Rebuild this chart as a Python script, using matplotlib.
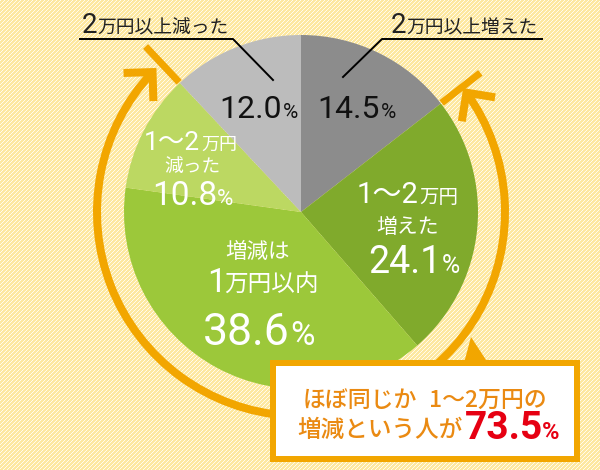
import numpy as np
import matplotlib
matplotlib.use('Agg')
import matplotlib.pyplot as plt
from matplotlib import font_manager
from matplotlib.patches import Arc, Rectangle, Polygon

# データ（時計回り、12時の位置から）
categories = ['2万円以上増えた', '1～2万円増えた', '増減は1万円以内', '1～2万円減った', '2万円以上減った']
shares = [14.5, 24.1, 38.6, 10.8, 12.0]
colors = ['#8c8c8c', '#80aa2c', '#9cc83a', '#bcd862', '#bcbcbc']
highlight = 73.5  # 24.1 + 38.6 + 10.8

W, H = 600, 470
ORANGE = '#f2a600'
TEXT_ORANGE = '#ea8a12'
RED = '#e60012'


def Y(y):
    # 画像座標(上が0)をデータ座標に
    return H - y


installed = {f.name for f in font_manager.fontManager.ttflist}
JP = ['Noto Sans CJK JP', 'DejaVu Sans']
NUM = ['Roboto', 'Noto Sans CJK JP', 'DejaVu Sans']
narrow = 'Liberation Sans Narrow' if 'Liberation Sans Narrow' in installed else 'Roboto'
PCT = [narrow, 'DejaVu Sans']

fig = plt.figure(figsize=(6, 4.7), dpi=100)
ax = fig.add_axes([0, 0, 1, 1])

# 背景の斜線模様
yy, xx = np.mgrid[0:H, 0:W]
bg = np.empty((H, W, 3))
bg[:] = np.array([253, 232, 160]) / 255
bg[((xx + yy) % 4) == 0] = np.array([255, 251, 236]) / 255
ax.imshow(bg, extent=(0, W, 0, H), origin='upper', interpolation='nearest', zorder=0)

# 円グラフ
cx, cy, r = 301, Y(212), 177
ax.pie(shares, colors=colors, startangle=90, counterclock=False,
       center=(cx, cy), radius=r, wedgeprops=dict(linewidth=0))

ax.set_xlim(0, W)
ax.set_ylim(0, H)
ax.set_aspect('equal')
ax.axis('off')


def pt(a, rad):
    a = np.radians(a)
    return cx + rad * np.sin(a), cy + rad * np.cos(a)


# 矢印（73.5%の範囲）
bounds = np.cumsum([0] + shares) * 3.6
a_right = bounds[1]   # 14.5と24.1の境
a_left = bounds[4]    # 10.8と12.0の境
R = 204
lw_px = 8 * 0.72
tip_r, tip_l = a_right + 2, a_left - 3.5
ax.add_patch(Arc((cx, cy), 2 * R, 2 * R, theta1=90 - tip_l, theta2=90 - tip_r,
                 color=ORANGE, lw=lw_px, zorder=3))

for a in (a_right, a_left):
    x0, y0 = pt(a, 178)
    x1, y1 = pt(a, 227)
    ax.plot([x0, x1], [y0, y1], color=ORANGE, lw=7 * 0.72, solid_capstyle='butt', zorder=3)

for a, sgn in ((tip_r, -1), (tip_l, 1)):
    t = np.radians(a)
    tx, ty = pt(a, R)
    d = sgn * np.array([np.cos(t), -np.sin(t)])
    back = -d
    arms = []
    for rot in (45, -45):
        c, s = np.cos(np.radians(rot)), np.sin(np.radians(rot))
        v = np.array([c * back[0] - s * back[1], s * back[0] + c * back[1]])
        arms.append((tx + 29 * v[0], ty + 29 * v[1]))
    ax.plot([arms[0][0], tx, arms[1][0]], [arms[0][1], ty, arms[1][1]],
            color=ORANGE, lw=lw_px, solid_joinstyle='miter', solid_capstyle='butt', zorder=3)

# 吹き出し
ax.add_patch(Polygon([(471, Y(337)), (464, Y(363)), (488, Y(363))], closed=True,
                     facecolor=ORANGE, edgecolor='none', zorder=4))
ax.add_patch(Rectangle((273, Y(459)), 304, 96, facecolor='white', edgecolor=ORANGE,
                       lw=6 * 0.72, zorder=5))


def txt(x, y, s, size, color, fam, ha='left', weight='normal'):
    ax.text(x, Y(y), s, fontsize=size, color=color, family=fam, ha=ha,
            va='baseline', fontweight=weight, zorder=6)


# 上部ラベルと引き出し線
ax.plot([80, 233, 273], [Y(39), Y(39), Y(80)], color='black', lw=1.4, zorder=6)
ax.plot([542, 382, 343], [Y(39), Y(39), Y(77)], color='black', lw=1.4, zorder=6)
txt(82, 33, '2', 20, '#222222', NUM)
txt(97, 33, '万円以上減った', 13.5, '#222222', JP)
txt(391, 33, '2', 20, '#222222', NUM)
txt(406, 33, '万円以上増えた', 13.5, '#222222', JP)

# 灰色の扇形
txt(282, 118, '12.0', 23, '#111111', NUM, ha='right')
txt(283, 118, '%', 15, '#111111', PCT)
txt(380, 118, '14.5', 23, '#111111', NUM, ha='right')
txt(381, 118, '%', 15, '#111111', PCT)

# 1～2万円増えた
txt(418, 203, '1～2', 21, 'white', NUM, ha='right')
txt(419, 203, '万円', 14, 'white', JP)
txt(408, 233, '増えた', 15, 'white', JP, ha='center')
txt(442, 273, '24.1', 27, 'white', NUM, ha='right')
txt(442, 273, '%', 18, 'white', PCT)

# 増減は1万円以内
txt(258, 258, '増減は', 15.5, 'white', JP, ha='center')
txt(207, 292, '1', 24, 'white', NUM)
txt(224, 292, '万円以内', 17, 'white', JP)
txt(290, 345, '38.6', 32, 'white', NUM, ha='right')
txt(290, 345, '%', 24, 'white', PCT)

# 1～2万円減った
txt(200, 150, '1～2', 19, 'white', NUM, ha='right')
txt(201, 150, '万円', 13, 'white', JP)
txt(192, 172, '減った', 13.5, 'white', JP, ha='center')
txt(217, 205, '10.8', 24, 'white', NUM, ha='right')
txt(217, 205, '%', 16, 'white', PCT)

# 吹き出しの文字
txt(303, 407, 'ほぼ同じか', 16.5, TEXT_ORANGE, JP, weight='medium')
txt(547, 407, '1～2万円の', 16.5, TEXT_ORANGE, JP, ha='right', weight='medium')
txt(297, 437, '増減という人が', 17, TEXT_ORANGE, JP, weight='medium')
txt(543, 439, f'{highlight:.1f}', 28, RED, NUM, ha='right', weight='bold')
txt(542, 439, '%', 17, RED, PCT, weight='bold')

fig.savefig('out.png', dpi=100)
